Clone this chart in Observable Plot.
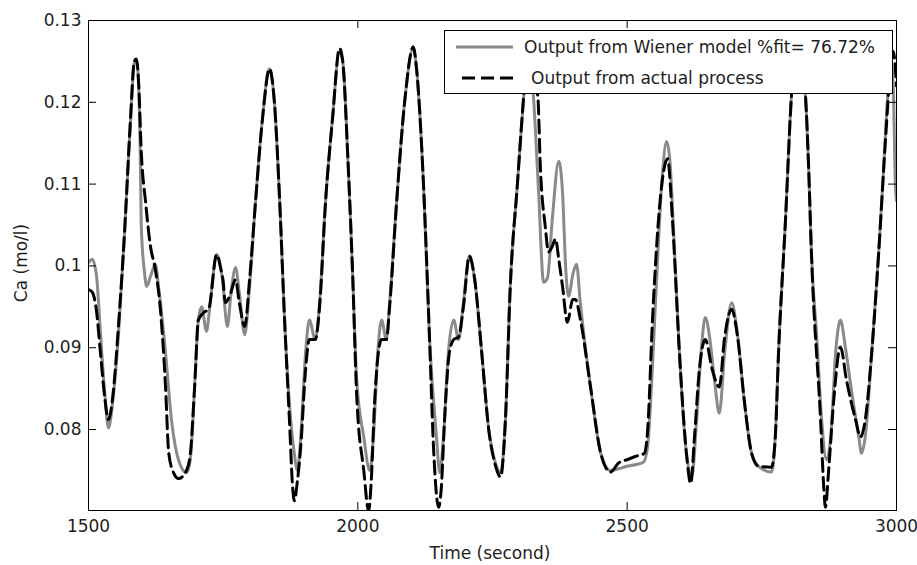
<!DOCTYPE html>
<html><head><meta charset="utf-8">
<script src="https://cdn.jsdelivr.net/npm/d3@7"></script>
<script src="https://cdn.jsdelivr.net/npm/@observablehq/plot@0.6"></script>
<style>
html,body{margin:0;padding:0;background:#fff;}
#chart{position:relative;width:917px;height:565px;}
</style></head><body><div id="chart"></div>
<script>
const xTicks = [1500, 2000, 2500, 3000];
const yTicks = [0.08, 0.09, 0.1, 0.11, 0.12, 0.13];
const xLabel = "Time (second)";
const yLabel = "Ca (mo/l)";
const legendLabels = ["Output from Wiener model %fit= 76.72%", "Output from actual process"];

const modelTime = [1500,1507,1515,1522,1530,1537,1545,1556,1567,1578,
1585,1589,1593,1596,1598,1604,1608,1615,1624,1630,
1643,1654,1667,1682,1689,1697,1704,1710,1719,1726,
1738,1745,1750,1754,1758,1764,1773,1780,1790,1799,
1810,1823,1836,1845,1855,1864,1873,1882,1888,1894,
1903,1910,1921,1929,1940,1953,1966,1972,1981,1990,
1998,2011,2022,2029,2037,2044,2053,2059,2072,2087,
2103,2109,2122,2133,2146,2152,2159,2168,2178,2187,
2196,2207,2217,2230,2243,2255,2265,2274,2283,2296,
2308,2317,2326,2335,2345,2352,2361,2373,2380,2386,
2391,2400,2406,2413,2432,2451,2469,2484,2499,2515,
2530,2538,2545,2554,2564,2573,2579,2588,2597,2610,
2620,2629,2638,2645,2653,2662,2671,2681,2694,2703,
2718,2731,2744,2768,2775,2781,2794,2805,2818,2831,
2837,2842,2852,2861,2870,2878,2887,2896,2905,2917,
2930,2935,2942,2954,2967,2976,2985,2991,2994,2998,
3000];
const modelCa = [0.1004,0.1008,0.0987,0.0920,0.0846,0.0802,0.0834,0.0920,0.1042,0.1177,
0.1248,0.1251,0.1220,0.1139,0.1048,0.0992,0.0975,0.0987,0.1002,0.0975,
0.0894,0.0812,0.0763,0.0747,0.0763,0.0852,0.0934,0.0950,0.0920,0.0955,
0.1014,0.1000,0.0975,0.0943,0.0926,0.0963,0.0998,0.0967,0.0916,0.0975,
0.1078,0.1180,0.1241,0.1201,0.1078,0.0934,0.0832,0.0771,0.0750,0.0791,
0.0894,0.0934,0.0910,0.0955,0.1078,0.1180,0.1262,0.1250,0.1139,0.0996,
0.0860,0.0791,0.0750,0.0791,0.0894,0.0934,0.0910,0.0955,0.1078,0.1201,
0.1266,0.1241,0.1098,0.0913,0.0791,0.0747,0.0791,0.0894,0.0934,0.0910,
0.0955,0.1012,0.0983,0.0894,0.0800,0.0760,0.0747,0.0812,0.0975,0.1098,
0.1208,0.1275,0.1208,0.1098,0.0980,0.0985,0.1057,0.1128,0.1090,0.0996,
0.0963,0.0992,0.1002,0.0955,0.0852,0.0771,0.0750,0.0752,0.0755,0.0757,
0.0760,0.0779,0.0852,0.0975,0.1098,0.1152,0.1131,0.1017,0.0894,0.0771,
0.0742,0.0812,0.0901,0.0937,0.0913,0.0861,0.0820,0.0894,0.0955,0.0926,
0.0832,0.0771,0.0755,0.0748,0.0791,0.0894,0.1057,0.1208,0.1275,0.1208,
0.1118,0.1017,0.0913,0.0812,0.0763,0.0791,0.0894,0.0934,0.0901,0.0845,
0.0791,0.0771,0.0791,0.0894,0.1017,0.1118,0.1220,0.1245,0.1220,0.1098,
0.1080];

const actualTime = [1500,1507,1515,1522,1530,1537,1545,1556,1567,1578,
1585,1589,1593,1598,1606,1615,1624,1634,1643,1649,
1658,1667,1682,1689,1697,1704,1714,1723,1738,1745,
1750,1754,1762,1773,1780,1790,1799,1810,1823,1836,
1845,1855,1864,1873,1879,1882,1888,1894,1903,1910,
1921,1929,1940,1953,1966,1972,1981,1990,1998,2011,
2020,2025,2031,2044,2053,2059,2072,2087,2103,2109,
2122,2133,2141,2150,2155,2161,2170,2178,2187,2196,
2207,2217,2230,2243,2255,2265,2274,2283,2296,2308,
2317,2326,2334,2339,2348,2354,2361,2367,2373,2380,
2389,2399,2404,2413,2432,2451,2469,2484,2499,2515,
2532,2538,2547,2564,2575,2584,2597,2610,2618,2625,
2634,2645,2658,2671,2681,2694,2705,2718,2731,2744,
2768,2775,2781,2794,2805,2818,2831,2837,2842,2859,
2865,2868,2874,2883,2896,2907,2924,2933,2942,2954,
2967,2980,2989,2994,3000];
const actualCa = [0.0971,0.0968,0.0944,0.0895,0.0840,0.0812,0.0840,0.0930,0.1042,0.1180,
0.1250,0.1253,0.1225,0.1139,0.1078,0.1024,0.0996,0.0943,0.0852,0.0771,
0.0747,0.0740,0.0750,0.0770,0.0852,0.0934,0.0943,0.0947,0.1014,0.0998,
0.0981,0.0955,0.0963,0.0983,0.0955,0.0926,0.0983,0.1078,0.1180,0.1241,
0.1201,0.1078,0.0934,0.0812,0.0729,0.0713,0.0738,0.0779,0.0873,0.0910,
0.0910,0.0950,0.1078,0.1180,0.1266,0.1250,0.1139,0.0996,0.0840,0.0750,
0.0701,0.0738,0.0832,0.0910,0.0910,0.0950,0.1078,0.1201,0.1268,0.1241,
0.1098,0.0913,0.0771,0.0705,0.0729,0.0812,0.0894,0.0910,0.0913,0.0950,
0.1012,0.0983,0.0894,0.0800,0.0757,0.0742,0.0812,0.0975,0.1098,0.1208,
0.1275,0.1225,0.1208,0.1118,0.1048,0.1017,0.1024,0.1033,0.1008,0.0975,
0.0931,0.0959,0.0959,0.0935,0.0852,0.0771,0.0748,0.0759,0.0763,0.0767,
0.0771,0.0799,0.0934,0.1098,0.1131,0.1057,0.0894,0.0771,0.0734,0.0791,
0.0873,0.0910,0.0873,0.0852,0.0913,0.0947,0.0913,0.0832,0.0771,0.0755,
0.0754,0.0791,0.0894,0.1057,0.1208,0.1275,0.1208,0.1118,0.1017,0.0812,
0.0729,0.0705,0.0750,0.0832,0.0901,0.0861,0.0812,0.0791,0.0812,0.0894,
0.1017,0.1159,0.1241,0.1262,0.1220];

const model = modelTime.map((t, i) => ({t, v: modelCa[i]}));
const actual = actualTime.map((t, i) => ({t, v: actualCa[i]}));

const W = 917, H = 565, mL = 88, mR = 21, mT = 20, mB = 55;
const innerW = W - mL - mR, innerH = H - mT - mB, tk = 8;
const grayColor = "#8a8a8a";
const dash = "13,6";

const chart = Plot.plot({
  width: W, height: H,
  marginLeft: mL, marginRight: mR, marginTop: mT, marginBottom: mB,
  style: {fontFamily: "DejaVu Sans", fontSize: "17px", color: "#1e1e1e", background: "#fff"},
  x: {domain: [1500, 3000]},
  y: {domain: [0.0701, 0.13]},
  marks: [
    Plot.line(model, {x: "t", y: "v", stroke: grayColor, strokeWidth: 3, curve: "monotone-x", clip: true}),
    Plot.line(actual, {x: "t", y: "v", stroke: "#000", strokeWidth: 3, strokeDasharray: dash, curve: "monotone-x", clip: true}),
    Plot.tickX(xTicks, {x: d => d, insetTop: innerH - tk, stroke: "#000"}),
    Plot.tickX(xTicks, {x: d => d, insetBottom: innerH - tk, stroke: "#000"}),
    Plot.tickY(yTicks, {y: d => d, insetRight: innerW - tk, stroke: "#000"}),
    Plot.tickY(yTicks, {y: d => d, insetLeft: innerW - tk, stroke: "#000"}),
    Plot.axisX({ticks: xTicks, tickSize: 0, tickPadding: 9, tickFormat: d => String(d), label: null}),
    Plot.axisY({ticks: yTicks, tickSize: 0, tickPadding: 7, tickFormat: d => String(d), label: null}),
    Plot.frame({stroke: "#000", strokeWidth: 1})
  ]
});

const svg = d3.select(chart);
// axis titles
svg.append("text").attr("x", 490).attr("y", 559).attr("text-anchor", "middle")
  .attr("fill", "#1e1e1e").text(xLabel);
svg.append("text").attr("transform", "translate(27,263) rotate(-90)").attr("text-anchor", "middle")
  .attr("fill", "#1e1e1e").text(yLabel);

// legend
const lg = svg.append("g").attr("text-anchor", "start");
lg.append("rect").attr("x", 444.5).attr("y", 30.5).attr("width", 448).attr("height", 63)
  .attr("fill", "#fff").attr("stroke", "#000").attr("stroke-width", 1);
lg.append("line").attr("x1", 456).attr("x2", 513).attr("y1", 47).attr("y2", 47)
  .attr("stroke", grayColor).attr("stroke-width", 3);
lg.append("line").attr("x1", 462).attr("x2", 518).attr("y1", 78).attr("y2", 78)
  .attr("stroke", "#000").attr("stroke-width", 3).attr("stroke-dasharray", dash);
lg.append("text").attr("x", 524).attr("y", 53).attr("text-anchor", "start").attr("fill", "#1e1e1e").text(legendLabels[0]);
lg.append("text").attr("x", 531).attr("y", 84).attr("text-anchor", "start").attr("fill", "#1e1e1e").text(legendLabels[1]);

document.getElementById("chart").appendChild(chart);
</script></body></html>
